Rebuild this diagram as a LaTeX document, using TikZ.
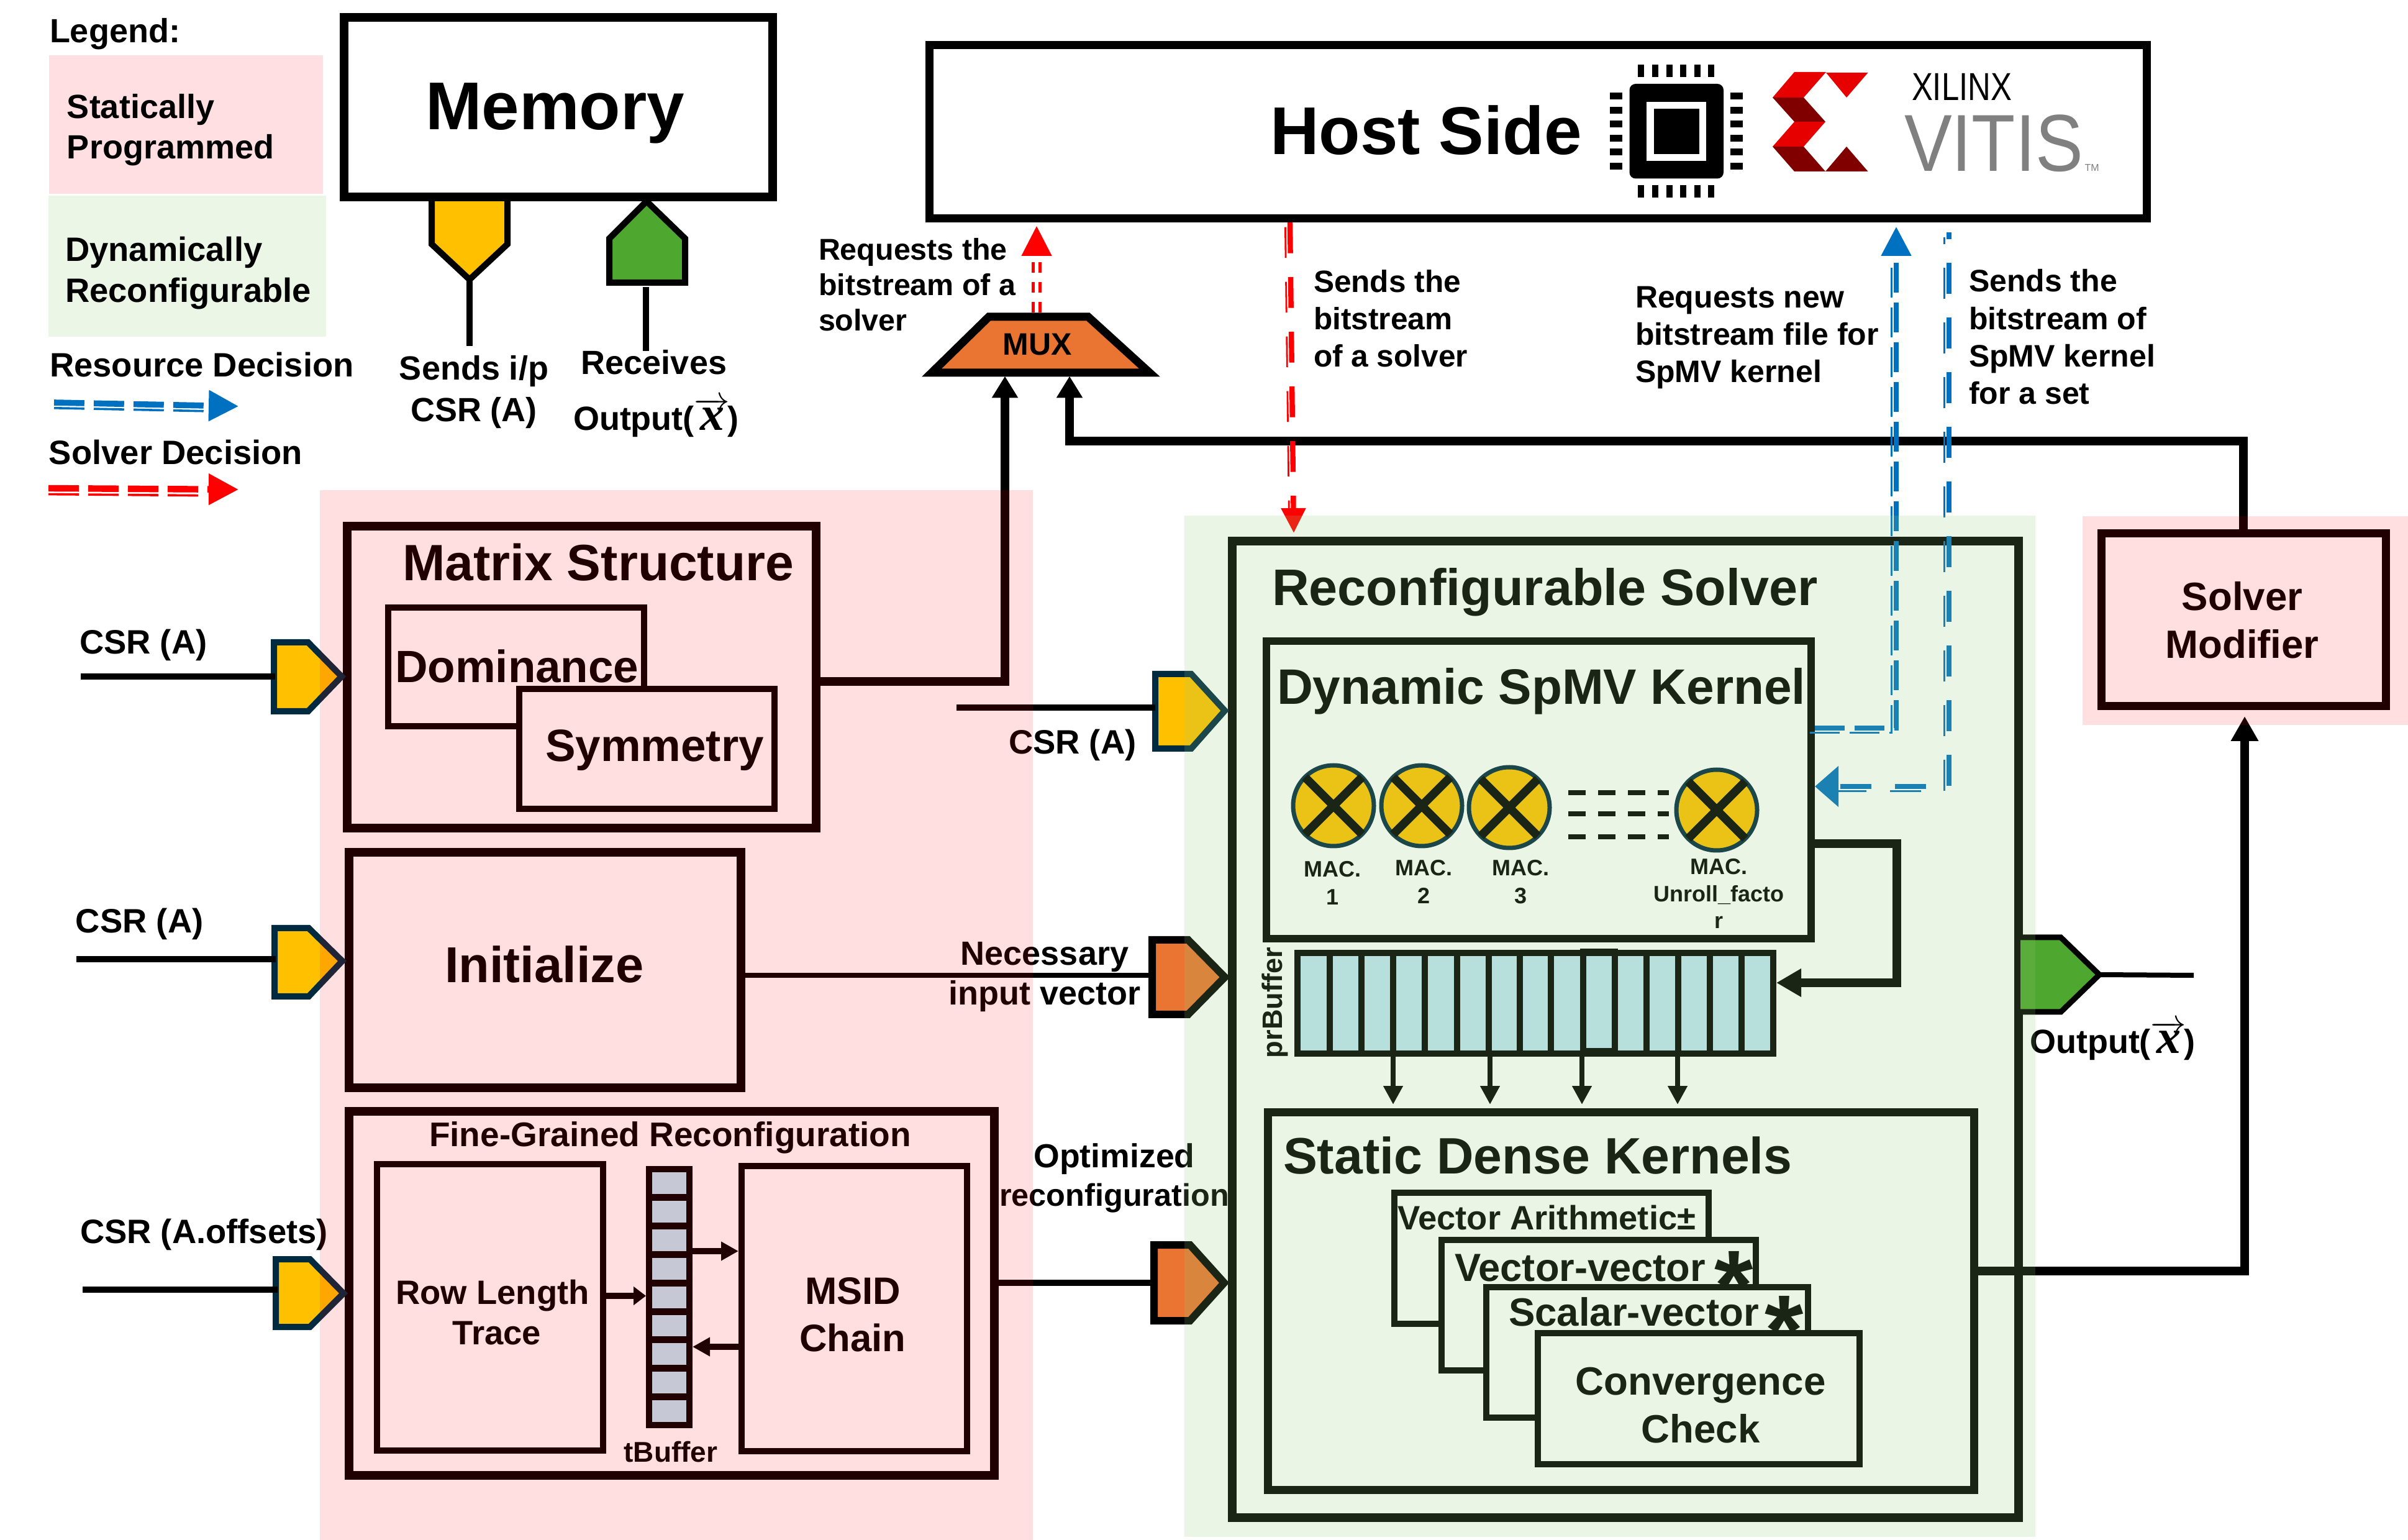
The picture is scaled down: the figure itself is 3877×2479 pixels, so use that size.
\documentclass[tikz,border=0pt]{standalone}
\usepackage{fontspec}
\setmainfont{Liberation Sans}
\newfontfamily\serfam{Liberation Serif}
\usetikzlibrary{arrows.meta,fit}
\newcommand\fz[2]{\fontsize{#1}{#2}\selectfont\bfseries}
\newcommand\vecx{$\overrightarrow{\hbox{\serfam\fontsize{19.5}{21}\selectfont\bfseries\itshape x}}$\kern-1pt}
\definecolor{yel}{HTML}{FFC000}
\definecolor{ora}{HTML}{EA7532}
\definecolor{grn}{HTML}{4EA72E}
\definecolor{navy}{HTML}{002A40}
\definecolor{blu}{HTML}{0070C0}
\definecolor{redd}{HTML}{FF0000}
\definecolor{cellc}{HTML}{BFE5F5}
\definecolor{gov}{rgb}{.59,.80,.47}
\definecolor{xred}{HTML}{E60000}
\definecolor{xdark}{HTML}{800000}
\definecolor{legp}{HTML}{FFDFE1}
\definecolor{legg}{HTML}{EBF6E6}
\tikzset{
  bx/.style={draw=black,fill=white,inner sep=0pt,line width=#1},
  tl/.style={inner sep=0pt,outer sep=0pt,anchor=base west,align=left},
  tc/.style={inner sep=0pt,outer sep=0pt,anchor=base,align=center},
  wire/.style={draw=black,line width=#1},
  port/.style={line width=2.5pt,draw=navy,line join=miter},
  macn/.style={circle,draw=navy,fill=yel,line width=1.75pt,minimum size=32.5pt,inner sep=0pt,outer sep=0pt},
  macx/.style={draw=black,line width=3.4pt},
  bthick/.style={draw=blu,line width=2.1pt},
  bthin/.style={draw=blu,line width=.7pt,transform canvas={xshift=-1.9pt,yshift=-1.9pt}},
  rthick/.style={draw=redd,line width=2.1pt},
  rthin/.style={draw=redd,line width=.7pt,transform canvas={xshift=-1.9pt,yshift=-1.9pt}},
}
\begin{document}
\begin{tikzpicture}[x=.25pt,y=-.25pt]
\useasboundingbox (0,0) rectangle (3877,2479);
\fill[white] (0,0) rectangle (3877,2479);
%% legend
\fill[legp] (79,89) rectangle (520,312);
\fill[legg] (78,315) rectangle (525,542);
\node[tl,font=\fz{13.5}{16}] (legt) at (80,69) {Legend:};
\node[tl,font=\fz{13.5}{16.25}] (stat) at (108,256) {Statically\\Programmed};
\node[tl,font=\fz{13.6}{16.5}] (dyna) at (105,487) {Dynamically\\Reconfigurable};
\node[tl,font=\fz{13.6}{16}] (resd) at (80,607) {Resource Decision};
\node[tl,font=\fz{13.6}{16}] (sold) at (79,748) {Solver Decision};
\coordinate (lb1) at (87,648); \coordinate (lb2) at (384,654);
\draw[draw=blu,line width=2.4pt,dash pattern=on 12.2pt off 3.8pt,-{Triangle[length=12pt,width=12pt]}] (lb1) -- (lb2);
\draw[draw=blu,line width=.9pt,dash pattern=on 12.2pt off 3.8pt,transform canvas={yshift=-2.2pt}] (lb1) -- (329,653);
\coordinate (lr1) at (78,786); \coordinate (lr2) at (384,788);
\draw[draw=redd,line width=2.6pt,dash pattern=on 12.2pt off 3.8pt,-{Triangle[length=12pt,width=12pt]}] (lr1) -- (lr2);
\draw[draw=redd,line width=.9pt,dash pattern=on 12.2pt off 3.8pt,transform canvas={yshift=-2.4pt}] (lr1) -- (319,788);

%% memory
\draw[line width=2.5pt,draw=black,fill=yel] (695,310) -- (817,310) -- (817,393) -- (756,450) coordinate (memp) -- (695,393) -- cycle;
\draw[line width=2.5pt,draw=black,fill=grn] (981,384) -- (1041,324) -- (1103,384) -- (1103,455) -- (981,455) -- cycle;
\node[bx=3.5pt,fit={(554,28)(1244,317)}] (mem) {};
\node[tl,font=\fz{27.2}{32}] (memt) at (685,209) {Memory};
\coordinate (mems) at (756,557); \coordinate (memr1) at (1040,462); \coordinate (memr2) at (1040,565);
\draw[wire=2.5pt] (memp) -- (mems);
\draw[wire=2.5pt] (memr1) -- (memr2);
\node[tc,font=\fz{13.5}{16.75}] (sendip) at (763,679) {Sends i/p\\CSR (A)};
\node[tc,font=\fz{13.5}{16}] (recv) at (1053,603) {Receives};
\node[tl,font=\fz{13.5}{16}] (outp) at (923,693) {Output(\vecx)};

%% host
\node[bx=3.25pt,fit={(1496.5,72.5)(3456.5,351.5)}] (host) {};
\node[tl,font=\fz{27.2}{32}] (hostt) at (2045,249) {Host Side};
\fill[black,rounded corners=2.5pt] (2623.5,135) rectangle (2775,287.5);
\fill[white] (2651,164) rectangle (2747,259);
\fill[black] (2662.5,175) rectangle (2736,248);
\foreach \px in {2642,2665,2688,2710,2733,2755}{
  \fill[black] (\px-5,104.5) rectangle (\px+5,124);
  \fill[black] (\px-5,298.5) rectangle (\px+5,318.5);}
\foreach \py in {155,178,200,223,245,268}{
  \fill[black] (2592,\py-5.5) rectangle (2612,\py+5.5);
  \fill[black] (2786,\py-5.5) rectangle (2806,\py+5.5);}
\fill[xred] (2889,116) -- (2940,116) -- (2904,157) -- (2854,157) -- cycle;
\fill[xred] (2940,117) -- (3007.5,117) -- (2973,157) -- cycle;
\fill[xdark] (2854,157) -- (2904,157) -- (2939,196) -- (2889,196) -- cycle;
\fill[xred] (2889,196) -- (2939,196) -- (2904,236) -- (2854,236) -- cycle;
\fill[xdark] (2854,236) -- (2904,236) -- (2939,276) -- (2889,276) -- cycle;
\fill[xdark] (2939,276) -- (2973,236) -- (3007.5,276) -- cycle;
\node[tl,font=\fontsize{15.7}{18}\selectfont] (xil) at (3078,162) {\scalebox{.81}[1]{XILINX}};
\node[tl,font=\fontsize{32.5}{36}\selectfont,text=black!50] (vit) at (3066,276) {\scalebox{.885}[1]{VITIS}};
\node[tl,font=\fontsize{4}{5}\selectfont,text=black!50] (tmk) at (3356.5,276) {TM};

%% mux
\draw[line width=3.25pt,draw=black,fill=ora,line join=miter] (1592,510) -- (1752,510) -- (1851,600) -- (1500,600) -- cycle;
\node[tc,font=\fz{12.5}{15}] (muxt) at (1670,572) {MUX};
\coordinate (muxa) at (1618,605.5); \coordinate (muxb) at (1722,605.5); \coordinate (muxr) at (1669,503);
\coordinate (muxtop) at (1669,364);
\node[tl,font=\fz{12.1}{14.25}] (reqb) at (1318,532.5) {Requests the\\bitstream of a\\solver};
\node[tl,font=\fz{12.4}{15.1}] (sends) at (2115,591) {Sends the\\bitstream\\of a solver};
\node[tl,font=\fz{12.5}{15.1}] (reqn) at (2633,616) {Requests new\\bitstream file for\\SpMV kernel};
\node[tl,font=\fz{12.5}{15.1}] (sendk) at (3170,651) {Sends the\\bitstream of\\SpMV kernel\\for a set};

%% left column
\node[bx=3.5pt,fit={(559,847)(1314,1333)}] (ms) {};
\node[tl,font=\fz{20.55}{24}] (mst) at (648,935) {Matrix Structure};
\node[bx=2.5pt,fit={(625,978)(1037,1169)}] (dom) {};
\node[bx=2.5pt,fit={(836,1109)(1247,1302)}] (sym) {};
\node[tl,font=\fz{18.2}{22}] (domt) at (636,1099) {Dominance};
\node[tl,font=\fz{18.2}{22}] (symt) at (878,1226) {Symmetry};
\node[bx=3.5pt,fit={(562,1372)(1193,1751)}] (ini) {};
\node[tl,font=\fz{20.3}{24}] (init) at (716,1582) {Initialize};
\node[bx=3.5pt,fit={(562,1789)(1601,2375)}] (fgr) {};
\node[tl,font=\fz{13.75}{16}] (fgrt) at (691,1845) {Fine-Grained Reconfiguration};
\node[bx=2.5pt,fit={(607,1874)(971,2335)}] (rlt) {};
\node[tc,font=\fz{13.6}{16.25}] (rltt) at (793,2164) {Row Length\\\hspace*{3.5pt}Trace};
\node[bx=2.5pt,fit={(1194,1877)(1557,2336)}] (msid) {};
\node[tc,font=\fz{15.4}{19}] (msidt) at (1373,2175) {MSID\\Chain};
\node[bx=2.5pt,fill=cellc,fit={(1045,1882)(1110,2294)}] (tb) {};
\foreach \i in {1,...,8}{\draw[black,line width=2.75pt] (1045,1882+45.8*\i) -- (1110,1882+45.8*\i);}
\node[tc,font=\fz{11.5}{14}] (tbt) at (1080,2353) {tBuffer};
\draw[wire=2.4pt,-{Triangle[length=5pt,width=7.25pt]}] (rlt.east |- 0,2086) -- (tb.west |- 0,2086);
\draw[wire=2.4pt,-{Triangle[length=7pt,width=7.25pt]}] (tb.east |- 0,2014) -- (msid.west |- 0,2014);
\draw[wire=2.4pt,-{Triangle[length=7pt,width=7.25pt]}] (msid.west |- 0,2168) -- (tb.east |- 0,2168);

%% input ports on the left
\draw[port,fill=yel] (441,1034) -- (496,1034) -- (550,1089) -- (496,1145) -- (441,1145) -- cycle;
\draw[port,fill=yel] (442,1494) -- (497,1494) -- (551,1547) -- (497,1604) -- (442,1604) -- cycle;
\draw[port,fill=yel] (444,2027) -- (499,2027) -- (553,2082) -- (499,2136) -- (444,2136) -- cycle;
\coordinate (in1) at (130,1089); \coordinate (in2) at (123,1544); \coordinate (in3) at (133,2076);
\draw[wire=2.5pt] (in1) -- (443,1089);
\draw[wire=2.5pt] (in2) -- (444,1544);
\draw[wire=2.5pt] (in3) -- (447,2076);
\node[tl,font=\fz{13.6}{16}] (csr1) at (128,1053) {CSR (A)};
\node[tl,font=\fz{13.6}{16}] (csr2) at (122,1502) {CSR (A)};
\node[tl,font=\fz{13.6}{16}] (csr3) at (129,2001) {CSR (A.offsets)};

%% reconfigurable solver
\node[bx=3.5pt,fit={(1984,871)(3250,2443)}] (rs) {};
\node[tl,font=\fz{20.7}{24}] (rst) at (2048,975) {Reconfigurable Solver};
\node[bx=3pt,fit={(2039,1032)(2916,1511)}] (spmv) {};
\node[tl,font=\fz{20.05}{24}] (spmvt) at (2056,1134) {Dynamic SpMV Kernel};
\node[macn] (mac1) at (2147,1297) {};
\node[macn] (mac2) at (2289,1297) {};
\node[macn] (mac3) at (2430,1300) {};
\node[macn] (mac4) at (2764,1304) {};
\foreach \m in {mac1,mac2,mac3,mac4}{
  \draw[macx] (\m.north west) -- (\m.south east);
  \draw[macx] (\m.north east) -- (\m.south west);}
\foreach \yy in {1276,1310,1347}{\draw[black,line width=2pt,dash pattern=on 7pt off 5pt] (2525,\yy) -- (2687,\yy);}
\node[tc,font=\fz{9}{11.25}] (mt1) at (2145,1457) {MAC.\\1};
\node[tc,font=\fz{9}{11.25}] (mt2) at (2292,1455) {MAC.\\2};
\node[tc,font=\fz{9}{11.25}] (mt3) at (2448,1455) {MAC.\\3};
\node[tc,font=\fz{9}{10.9}] (mt4) at (2767,1495) {MAC.\\Unroll\_facto\\r};
%% prBuffer
\node[bx=2.5pt,fill=cellc,fit={(2089,1534)(2855,1696)}] (prb) {};
\foreach \xx in {2141,2192,2243,2294,2346,2397,2447,2497,2549,2600,2651,2702,2753,2804}{\draw[black,line width=2.5pt] (\xx,1534) -- (\xx,1696);}
\draw[black,line width=2.5pt] (2549,1532) rectangle (2600,1692);
\node[inner sep=0pt,outer sep=0pt,rotate=90,anchor=base,font=\fz{11.3}{14}] (prbt) at (2064,1614) {prBuffer};
\foreach \xx in {2243,2399,2547,2701}{\draw[wire=2pt,-{Triangle[length=7.5pt,width=7.5pt]}] (\xx,0 |- prb.south) -- (\xx,1778);}
%% static
\node[bx=3.25pt,fit={(2041.5,1790)(3178,2398)}] (sdk) {};
\node[tl,font=\fz{20.6}{24}] (sdkt) at (2066,1889) {Static Dense Kernels};
\node[bx=2.5pt,fit={(2245,1920)(2751,2131)}] (va) {};
\node[tl,font=\fz{13.6}{16}] (vat) at (2250,1979) {Vector Arithmetic±};
\node[bx=2.5pt,fit={(2321,1996)(2827,2206)}] (vv) {};
\node[tl,font=\fz{15.8}{20}] (vvt) at (2342,2062) {Vector-vector};
\node[tc,font=\fz{40}{44}] (vvs) at (2792,2124) {*};
\node[bx=2.5pt,fit={(2393,2072)(2911,2282)}] (sv) {};
\node[tl,font=\fz{15.9}{20}] (svt) at (2429,2134) {Scalar-vector};
\node[tc,font=\fz{40}{44}] (svs) at (2873,2196) {*};
\node[bx=2.5pt,fit={(2476,2146)(2994,2357)}] (cc) {};
\node[tc,font=\fz{15.9}{19.25}] (cct) at (2738,2322) {Convergence\\Check};
%% right ports
\draw[port,fill=yel] (1860,1085) -- (1918,1085) -- (1972,1144) -- (1918,1205) -- (1860,1205) -- cycle;
\draw[line width=3pt,draw=black,fill=ora] (1855,1513) -- (1913,1513) -- (1972,1573) -- (1913,1633) -- (1855,1633) -- cycle;
\draw[line width=3pt,draw=black,fill=ora] (1858,2004) -- (1916,2004) -- (1971,2065) -- (1916,2126) -- (1858,2126) -- cycle;
\coordinate (csrr) at (1540,1139);
\draw[wire=2.5pt] (csrr) -- (1860,1139);
\draw[wire=2pt] (ini.east |- 0,1570) -- (1855,1570);
\draw[wire=2.5pt] (fgr.east |- 0,2065) -- (1858,2065);
\node[tl,font=\fz{13.6}{16}] (csr4) at (1624,1214) {CSR (A)};
\node[tc,font=\fz{13.5}{16.25}] (nec) at (1682,1618) {Necessary\\input vector};
\node[tc,font=\fz{13.4}{15.5}] (opt) at (1794,1941) {Optimized\\{\fz{12.6}{15.5}reconfiguration}};
%% output port
\fill[grn] (3253,1509) -- (3318,1509) -- (3380,1569) -- (3318,1629) -- (3253,1629) -- cycle;
\draw[line width=2.25pt,draw=black] (3243,1509) -- (3318,1509) -- (3380,1569) -- (3318,1629) -- (3243,1629);
\coordinate (outp2) at (3532,1570);
\draw[wire=2pt] (3380,1569) -- (outp2);
\node[tl,font=\fz{13.5}{16}] (outl) at (3268,1696) {Output(\vecx)};
%% solver modifier
\node[bx=3.25pt,fit={(3383.5,858.5)(3841.5,1136.5)}] (sm) {};
\node[tc,font=\fz{15.9}{19.25}] (smt) at (3610,1060) {Solver\\Modifier};
%% black wires
\draw[wire=3.5pt,-{Triangle[length=8.75pt,width=10pt]}] (ms.east |- 0,1097) -- (1618,1097) -- (muxa);
\draw[wire=3.5pt,-{Triangle[length=8.75pt,width=10pt]}] (sm.north -| 3612,0) -- (3612,710) -- (1722,710) -- (muxb);
\draw[wire=3.5pt,-{Triangle[length=10pt,width=10.5pt]}] (sdk.east |- 0,2046) -- (3614,2046) -- (3614,1153);
\draw[wire=3.5pt,-{Triangle[length=10pt,width=10.75pt]}] (spmv.east |- 0,1358) -- (3054,1358) -- (3054,1582) -- (prb.east |- 0,1582);
%% dashed decisions
\draw[draw=redd,line width=1.25pt,double=white,double distance=1.5pt,dash pattern=on 4.25pt off 3.75pt,-{Triangle[length=12pt,width=12pt]}] (muxr) -- (muxtop);
\coordinate (rtip) at (2083,858);
\draw[rthick,dash pattern=on 12.4pt off 9.6pt,-{Triangle[length=10pt,width=9.5pt]}] (2077,0 |- host.south) -- (rtip);
\draw[rthin,dash pattern=on 12.4pt off 9.6pt] (2077,0 |- host.south) -- (2083,818);
\coordinate (btip) at (3053,365);
\draw[bthick,dash pattern=on 12pt off 4pt,-{Triangle[length=11.75pt,width=11.75pt]}] (spmv.east |- 0,1172) -- (3053,1172) -- (btip);
\draw[bthin,dash pattern=on 12pt off 4pt] (spmv.east |- 0,1172) -- (3053,1172) -- (3053,412);
\coordinate (bs) at (3138,374);
\draw[bthick,dash pattern=on 12.5pt off 9.5pt,dash phase=9.75pt,-{Triangle[length=9.5pt,width=16pt]}] (bs) -- (3138,1266) -- (spmv.east |- 0,1266);
\draw[bthin,dash pattern=on 12.5pt off 9.5pt,dash phase=9.75pt] (bs) -- (3138,1266) -- (2960,1266);
%% translucent regions drawn over everything
\fill[red,opacity=.125] (515,789) rectangle (1663,2479);
\fill[red,opacity=.125] (3353,831) rectangle (3877,1167);
\fill[gov,opacity=.185] (1907,830) rectangle (3277,2474);
\end{tikzpicture}
\end{document}
